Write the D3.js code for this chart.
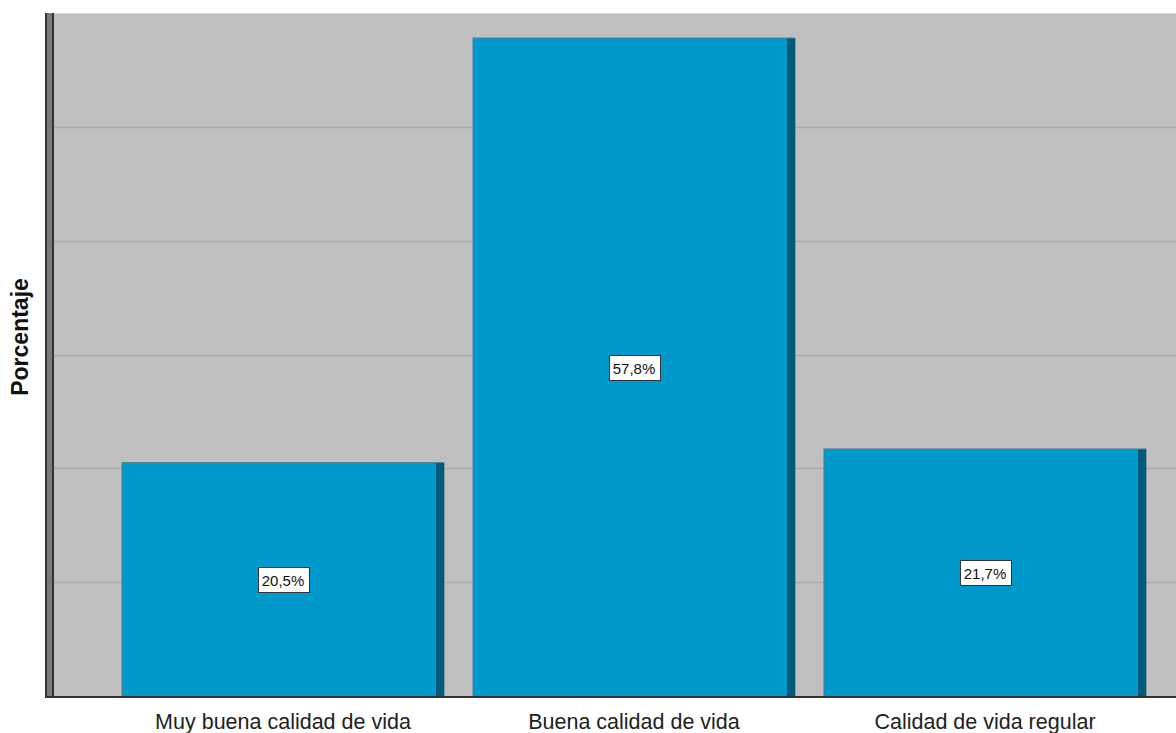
<!DOCTYPE html>
<html>
<head>
<meta charset="utf-8">
<script src="https://cdn.jsdelivr.net/npm/d3@7"></script>
<style>
  body { margin: 0; background: #fff; }
  svg { display: block; }
</style>
</head>
<body>
<svg id="chart" width="1176" height="733"></svg>
<script>
'use strict'
// chart data
var categories = ["Muy buena calidad de vida", "Buena calidad de vida", "Calidad de vida regular"];
var percents = [20.5, 57.8, 21.7];
var labels = ["20,5%", "57,8%", "21,7%"];
var gridTicks = [10, 20, 30, 40, 50];

var svg = d3.select("#chart");

// plot frame
var plotLeft = 54, plotRight = 1176, plotTop = 13, plotBottom = 696;

var y = d3.scaleLinear().domain([0, 60]).range([plotBottom, plotTop]);
var x = d3.scaleBand()
	.domain(categories)
	.range([107.5, 1160.5])
	.paddingInner(0.0826)
	.paddingOuter(0.0413);

// background
svg.append("rect")
	.attr("x", plotLeft).attr("y", plotTop)
	.attr("width", plotRight - plotLeft).attr("height", plotBottom - plotTop)
	.attr("fill", "#c0c0c0");
svg.append("line")
	.attr("x1", plotLeft).attr("x2", plotRight)
	.attr("y1", plotTop + 0.5).attr("y2", plotTop + 0.5)
	.attr("stroke", "#d4d4d4");

// gridlines
svg.append("g").selectAll("line")
	.data(gridTicks).enter()
	.append("line")
	.attr("x1", 47).attr("x2", plotRight)
	.attr("y1", function(d){ return Math.round(y(d)) + 0.5; })
	.attr("y2", function(d){ return Math.round(y(d)) + 0.5; })
	.attr("stroke", "#aaaaaa")
	.attr("stroke-width", 1.5);

// bars
var bars = svg.append("g").selectAll("g")
	.data(categories).enter()
	.append("g");

bars.append("rect")
	.attr("x", function(d){ return x(d); })
	.attr("y", function(d, i){ return y(percents[i]); })
	.attr("width", x.bandwidth())
	.attr("height", function(d, i){ return plotBottom - y(percents[i]); })
	.attr("fill", "#0099cc")
	.attr("stroke", "#4f7c8f")
	.attr("stroke-width", 1);

// dark right edge of each bar
bars.append("rect")
	.attr("x", function(d){ return x(d) + x.bandwidth() - 8; })
	.attr("y", function(d, i){ return y(percents[i]) + 0.5; })
	.attr("width", 8)
	.attr("height", function(d, i){ return plotBottom - y(percents[i]) - 0.5; })
	.attr("fill", "#005a7a");

// value labels
bars.each(function(d, i){
	var g = d3.select(this);
	var cx = x(d) + x.bandwidth() / 2;
	var cy = (y(percents[i]) + plotBottom) / 2 + 1;
	var t = g.append("text")
		.attr("x", cx).attr("y", cy)
		.attr("text-anchor", "middle")
		.attr("dominant-baseline", "central")
		.attr("font-family", "Arial, 'Liberation Sans', sans-serif")
		.attr("font-size", 15)
		.attr("fill", "#111")
		.text(labels[i]);
	var bb = t.node().getBBox();
	g.insert("rect", "text")
		.attr("x", Math.round(cx - bb.width / 2 - 4) + 0.5)
		.attr("y", Math.round(cy - 13) + 0.5)
		.attr("width", Math.round(bb.width + 8))
		.attr("height", 25)
		.attr("fill", "#fff")
		.attr("stroke", "#333")
		.attr("stroke-width", 1);
});

// left axis (double line)
svg.append("rect").attr("x", 45).attr("y", plotTop).attr("width", 9).attr("height", plotBottom - plotTop + 2).attr("fill", "#7a7a7a");
svg.append("rect").attr("x", 45).attr("y", plotTop).attr("width", 2).attr("height", plotBottom - plotTop + 2).attr("fill", "#333");
svg.append("rect").attr("x", 52).attr("y", plotTop).attr("width", 2).attr("height", plotBottom - plotTop + 2).attr("fill", "#333");

// bottom axis
svg.append("rect").attr("x", 45).attr("y", plotBottom).attr("width", plotRight - 45).attr("height", 2).attr("fill", "#333");

// category labels
svg.append("g").selectAll("text")
	.data(categories).enter()
	.append("text")
	.attr("x", function(d){ return x(d) + x.bandwidth() / 2; })
	.attr("y", 729)
	.attr("text-anchor", "middle")
	.attr("font-family", "Arial, 'Liberation Sans', sans-serif")
	.attr("font-size", 21.5)
	.attr("fill", "#222")
	.text(function(d){ return d; });

// y axis title
svg.append("text")
	.attr("transform", "translate(28,337) rotate(-90)")
	.attr("text-anchor", "middle")
	.attr("font-family", "Arial, 'Liberation Sans', sans-serif")
	.attr("font-size", 23)
	.attr("font-weight", "bold")
	.attr("fill", "#111")
	.text("Porcentaje");
</script>
</body>
</html>
